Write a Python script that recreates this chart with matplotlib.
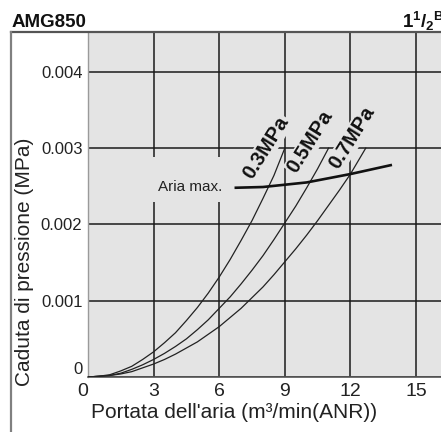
import matplotlib
matplotlib.use("Agg")
import matplotlib.pyplot as plt
from matplotlib.lines import Line2D
from matplotlib.patches import Rectangle

plt.rcParams['font.family'] = ['Liberation Sans', 'DejaVu Sans']
plt.rcParams['mathtext.fontset'] = 'custom'
plt.rcParams['mathtext.bf'] = 'Liberation Sans:bold'
plt.rcParams['mathtext.rm'] = 'Liberation Sans:bold'

# ---- data ----
x_03 = [0, 0.5, 1, 1.5, 2, 2.5, 3, 3.5, 4, 4.5, 5, 5.5, 6, 6.5, 7, 7.5, 8, 8.5, 9]
y_03 = [0, 0.00001, 0.00003, 0.00008, 0.00014, 0.00023, 0.00033, 0.00045, 0.00058, 0.00074,
        0.00091, 0.00110, 0.00131, 0.00154, 0.00179, 0.00205, 0.00234, 0.00264, 0.0030]

x_05 = [0, 0.5, 1, 1.5, 2, 2.5, 3, 3.5, 4, 4.5, 5, 5.5, 6, 6.5, 7, 7.5, 8, 8.5, 9, 9.5, 10, 10.5, 11]
y_05 = [0, 0.00001, 0.00002, 0.00005, 0.00010, 0.00016, 0.00023, 0.00031, 0.00040, 0.00050,
        0.00062, 0.00075, 0.00090, 0.00105, 0.00122, 0.00140, 0.00159, 0.00180, 0.00202,
        0.00224, 0.00248, 0.00273, 0.0030]

x_07 = [0, 0.5, 1, 1.5, 2, 2.5, 3, 3.5, 4, 4.5, 5, 5.5, 6, 6.5, 7, 7.5, 8, 8.5, 9, 9.5, 10,
        10.5, 11, 11.5, 12, 12.7]
y_07 = [0, 0.00001, 0.00002, 0.00004, 0.00007, 0.00012, 0.00017, 0.00023, 0.00030, 0.00038,
        0.00046, 0.00056, 0.00066, 0.00078, 0.00090, 0.00104, 0.00118, 0.00134, 0.00151,
        0.00168, 0.00186, 0.00205, 0.00225, 0.00245, 0.00266, 0.0030]

x_max = [6.7, 8.0, 10.0, 12.0, 13.9]
y_max = [0.00248, 0.00249, 0.00255, 0.00266, 0.00278]

curve_labels = ['0.3MPa', '0.5MPa', '0.7MPa']
label_pos = [(8.16, 0.00301), (10.17, 0.00308), (12.09, 0.00314)]

x_ticks = [0, 3, 6, 9, 12, 15]
y_ticks = [0, 0.001, 0.002, 0.003, 0.004]
y_ticklabels = ['0', '0.001', '0.002', '0.003', '0.004']

W, H = 441, 432
BG = '#e4e4e4'
fig = plt.figure(figsize=(W / 100, H / 100), dpi=100)
fig.patch.set_facecolor('white')

ax = fig.add_axes([88 / W, 1 - 377 / H, 1 - 88 / W, (377 - 32) / H])
ax.set_facecolor(BG)
ax.set_xlim(0, (W - 88) / 21.87)
ax.set_ylim(0, 0.001 * (377 - 32) / 76.3)

ax.set_xticks(x_ticks)
ax.set_yticks(y_ticks)
ax.set_yticklabels(y_ticklabels)
ax.tick_params(axis='both', length=0, colors='#222222')
ax.tick_params(axis='x', labelsize=14, pad=4)
ax.tick_params(axis='y', labelsize=12, pad=4)
ax.grid(True, color='#1a1a1a', lw=1.1)
ax.set_axisbelow(True)

for lab in ax.get_yticklabels():
    if lab.get_text() == '0':
        lab.set_va('bottom')
xl = ax.get_xticklabels()
xl[0].set_ha('right')

for s in ['top', 'right']:
    ax.spines[s].set_visible(False)
ax.spines['left'].set_color('#9a9a9a')
ax.spines['left'].set_linewidth(1.0)
ax.spines['bottom'].set_color('#555555')
ax.spines['bottom'].set_linewidth(1.2)

# knock-out behind "Aria max."
ax.add_patch(Rectangle((2.8, 0.00229), 3.55, 0.00059, facecolor=BG,
                       edgecolor='none', zorder=1))

for xs, ys in [(x_03, y_03), (x_05, y_05), (x_07, y_07)]:
    ax.plot(xs, ys, color='#222222', lw=0.9, zorder=3)
ax.plot(x_max, y_max, color='#111111', lw=1.9, zorder=3, solid_capstyle='butt')

for lab, (lx, ly) in zip(curve_labels, label_pos):
    ax.text(lx, ly, lab, rotation=58, rotation_mode='anchor', ha='center', va='center',
            fontsize=14.5, fontweight='bold', color='#111111', zorder=4,
            bbox=dict(boxstyle='square,pad=0.05', facecolor=BG, edgecolor='none'))

ax.text(6.13, 0.00249, 'Aria max.', ha='right', va='center', fontsize=11,
        color='#222222', zorder=4)

# outer frame
fig.add_artist(Line2D([11 / W, 1], [1 - 32 / H, 1 - 32 / H], color='#555555', lw=1.6))
fig.add_artist(Line2D([11 / W, 11 / W], [0, 1 - 32 / H], color='#808080', lw=1.6))

# titles and labels
fig.text(12 / W, 1 - 27 / H, 'AMG850', fontsize=13.5, fontweight='bold', va='baseline',
         ha='left', color='#111111')
fig.text(401.5 / W, 1 - 28 / H, r'$\mathbf{1^{1}/_{2}{}^{B}}$', fontsize=13.5,
         va='baseline', ha='left', color='#111111')

fig.text(25 / W, 1 - 262 / H, 'Caduta di pressione (MPa)', rotation=90, ha='center', va='center',
         fontsize=15, color='#222222')
fig.text(234 / W, 1 - 413 / H, "Portata dell'aria (m\u00b3/min(ANR))", ha='center', va='center',
         fontsize=15, color='#222222')

fig.savefig('out.png', dpi=100)
